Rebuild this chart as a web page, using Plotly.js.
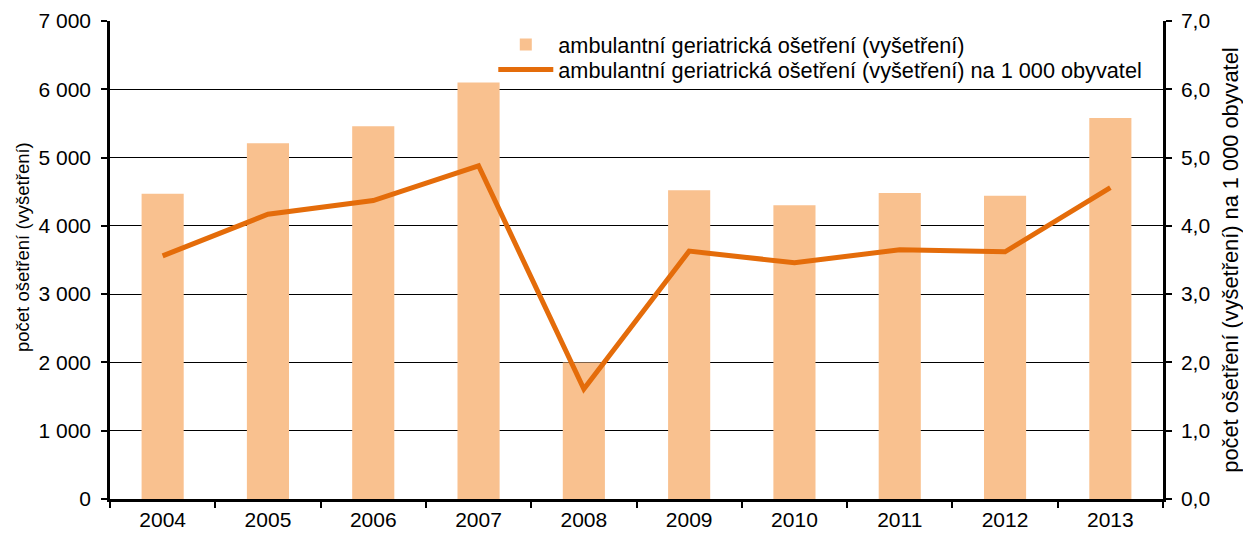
<!DOCTYPE html>
<html><head><meta charset="utf-8">
<script src="https://cdn.plot.ly/plotly-3.0.1.min.js"></script>
<style>body{margin:0;background:#fff}#c{width:1243px;height:535px}</style>
</head><body><div id="c"></div>
<script>
const years = ['2004','2005','2006','2007','2008','2009','2010','2011','2012','2013'];
const treatments = [4470, 5210, 5460, 6100, 2000, 4520, 4300, 4480, 4440, 5580];
const per1000 = [3.56, 4.17, 4.37, 4.88, 1.61, 3.63, 3.46, 3.65, 3.62, 4.56];
const barName = 'ambulantní geriatrická ošetření (vyšetření)';
const lineName = 'ambulantní geriatrická ošetření (vyšetření) na 1 000 obyvatel';
const leftTitle = 'počet ošetření (vyšetření)';
const rightTitle = 'počet ošetření (vyšetření) na 1 000 obyvatel';

const fam = 'Liberation Sans, Arial, sans-serif';
const tickFont = {family: fam, size: 21, color: '#000'};
const legFont = {family: fam, size: 21.7, color: '#000'};
const legBase = {xanchor:'left', yanchor:'middle', bgcolor:'rgba(0,0,0,0)', font:legFont, itemwidth:55};
Plotly.newPlot('c', [
  {type:'bar', x: years, y: treatments, name: barName, marker:{color:'#F9C18F'}, yaxis:'y', legend:'legend'},
  {type:'scatter', mode:'lines', x: years, y: per1000, name: lineName, line:{color:'#E46C0A', width:5}, yaxis:'y2', legend:'legend2'}
], {
  width:1243, height:535,
  margin:{l:110, r:80, t:21, b:36},
  paper_bgcolor:'#fff', plot_bgcolor:'#fff',
  font: tickFont,
  separators: ', ',
  bargap: 0.6,
  showlegend: true,
  legend: Object.assign({x:0.364, y:(499-45)/478}, legBase),
  legend2: Object.assign({x:0.364, y:(499-70)/478}, legBase),
  annotations:[
    {text:leftTitle, xref:'paper', yref:'paper', x:(23-110)/1053, y:(499-247)/478, xanchor:'center', yanchor:'middle', textangle:-90, showarrow:false, font:{family:fam, size:18.5, color:'#000'}}
  ],
  xaxis:{type:'category', showline:true, linecolor:'#000', linewidth:2.5, ticks:'outside', tickson:'boundaries', ticklen:6, tickwidth:2, tickcolor:'#000', showgrid:false, tickfont:tickFont, zeroline:false},
  yaxis:{range:[0,7000], dtick:1000, tickformat:',d', showline:true, linecolor:'#000', linewidth:2.5, ticks:'outside', ticklen:6, tickwidth:2, tickcolor:'#000', ticklabelstandoff:6, showgrid:true, gridcolor:'#000', gridwidth:1, zeroline:false, tickfont:tickFont},
  yaxis2:{range:[0,7], dtick:1, tickformat:'.1f', overlaying:'y', side:'right', showline:true, linecolor:'#000', linewidth:2.5, ticks:'outside', ticklen:6, tickwidth:2, tickcolor:'#000', ticklabelstandoff:5, showgrid:false, zeroline:false, tickfont:tickFont,
    title:{text:rightTitle, font:{family:fam, size:21.8, color:'#000'}, standoff:14}}
}, {displayModeBar:false});
</script></body></html>
